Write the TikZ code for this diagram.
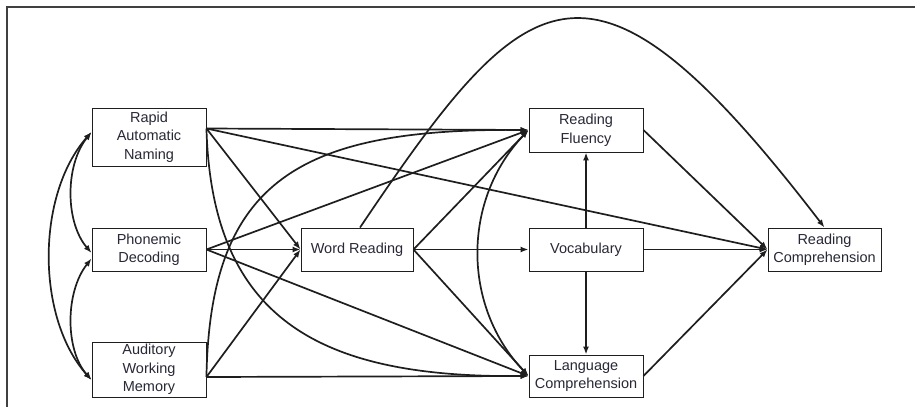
\documentclass[tikz,border=0pt]{standalone}
\usepackage{fontspec}
\setmainfont{Liberation Sans}
\usetikzlibrary{arrows.meta}
\definecolor{ink}{RGB}{40,40,55}
\definecolor{rule}{RGB}{30,30,30}
\begin{document}
\begin{tikzpicture}[x=1pt,y=-1pt,
  box/.style={draw=rule, line width=0.9pt, fill=white, align=center,
    inner sep=0pt, text=ink, font=\fontsize{14.5}{18.5}\selectfont},
  tip/.tip={Latex[length=8pt,width=6pt]},
  link/.style={line width=1.7pt, draw=rule, -tip},
  corr/.style={line width=1.7pt, draw=rule, tip-tip},
]
\useasboundingbox (0,0) rectangle (915,407);
% frame
\draw[line width=1.6pt, draw=black!75] (7,407) -- (7,7) -- (915,7);

% predictors
\node[box, minimum width=114pt, minimum height=58pt] (ran) at (149,137) {Rapid\\Automatic\\Naming};
\node[box, minimum width=114pt, minimum height=43pt] (pd) at (149,249.5) {Phonemic\\Decoding};
\node[box, minimum width=114pt, minimum height=55pt] (awm) at (149,369.5) {Auditory\\Working\\Memory};
% mediators and outcome
\node[box, minimum width=112pt, minimum height=43pt] (wr) at (357,249.5) {Word Reading};
\node[box, minimum width=114pt, minimum height=44pt] (rf) at (586,130) {Reading\\Fluency};
\node[box, minimum width=114pt, minimum height=43pt] (voc) at (586,249.5) {Vocabulary};
\node[box, minimum width=114pt, minimum height=42pt] (lc) at (586,376) {Language\\Comprehension};
\node[box, minimum width=113pt, minimum height=43pt] (rc) at (824.5,249.5) {Reading\\Comprehension};

% attachment points on the box sides
\coordinate (ranOut) at ([yshift=8.5pt]ran.east);
\coordinate (awmOut) at ([yshift=-7.5pt]awm.east);
\coordinate (ranIn) at ([yshift=5pt]ran.west);
\coordinate (pdInA) at ([yshift=-3.5pt]pd.west);
\coordinate (pdInB) at ([yshift=-9pt]pd.west);
\coordinate (awmIn) at ([yshift=-10.5pt]awm.west);

% correlations among predictors
\draw[corr] (ranIn) .. controls (65,165) and (65,222) .. (pdInA);
\draw[corr] (pdInB) .. controls (65,292) and (65,350) .. (awmIn);
\draw[corr] (ranIn) .. controls (36,195) and (36,318) .. (awmIn);

% rapid automatic naming
\draw[link] (ranOut) -- (rf.west);
\draw[link] (ranOut) -- (rc.west);
\draw[link] (ranOut) -- (wr.west);
\draw[link] (ranOut) .. controls (212,320) and (320,378) .. (lc.west);

% phonemic decoding
\draw[link] (pd.east) -- (rf.west);
\draw[link] (pd.east) -- (wr.west);
\draw[link] (pd.east) -- (lc.west);

% auditory working memory
\draw[link] (awmOut) .. controls (210,180) and (300,128) .. (rf.west);
\draw[link] (awmOut) -- (wr.west);
\draw[link] (awmOut) -- (lc.west);

% word reading
\draw[link] (wr.east) -- (rf.west);
\draw[link] (wr.east) -- (voc.west);
\draw[link] (wr.east) -- (lc.west);
\draw[link] ([xshift=3pt]wr.north) .. controls (528,-22) and (590,-78) .. (rc.north);

% fluency and language comprehension
\draw[corr] (rf.west) .. controls (462,200) and (462,306) .. (lc.west);

% vocabulary
\draw[link] (voc.north) -- (rf.south);
\draw[link] (voc.south) -- (lc.north);

% paths into reading comprehension
\draw[link] (rf.east) -- (rc.west);
\draw[link] (voc.east) -- (rc.west);
\draw[link] (lc.east) -- (rc.west);
\end{tikzpicture}
\end{document}
